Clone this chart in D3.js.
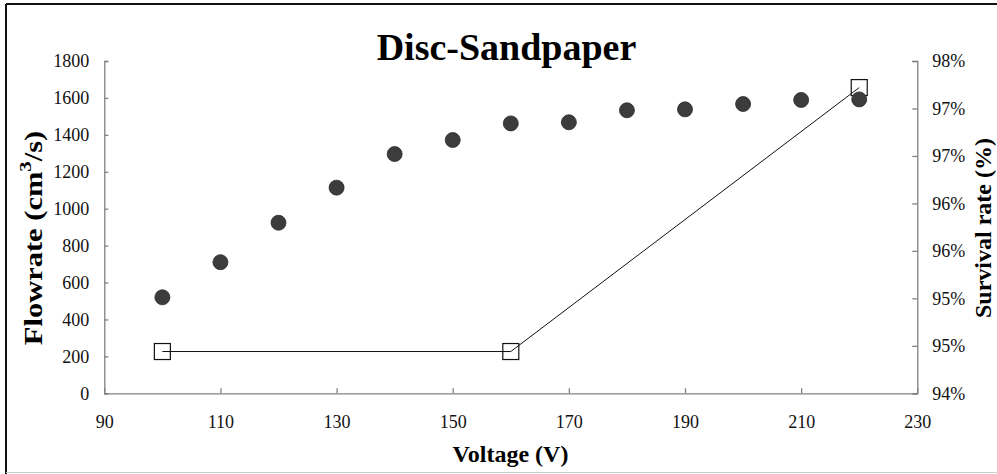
<!DOCTYPE html>
<html><head><meta charset="utf-8">
<script src="https://cdn.jsdelivr.net/npm/d3@7"></script>
<style>body{margin:0;background:#fff;}svg{display:block;} text{font-family:'Liberation Serif','Times New Roman',serif;}</style>
</head><body>
<svg id="c" width="997" height="474"></svg>
<script>
const voltage = [100,110,120,130,140,150,160,170,180,190,200,210,220];
const flowrate = [520,710,924,1114,1296,1372,1462,1468,1533,1538,1567,1589,1592];
const survVoltage = [100,160,220];
const survival = [94.44,94.44,97.22];
const xTicks = [90,110,130,150,170,190,210,230];
const yLeftTicks = [0,200,400,600,800,1000,1200,1400,1600,1800];
const yRightTicks = [94,94.5,95,95.5,96,96.5,97,97.5];
const title = "Disc-Sandpaper";

const svg = d3.select("#c");
const F = "'Liberation Serif','Times New Roman',serif";
const L = 104.3, R = 917.3, T = 61, B = 393.3;
const x = d3.scaleLinear().domain([90,230]).range([L,R]);
const yL = d3.scaleLinear().domain([0,1800]).range([B,T]);
const yR = d3.scaleLinear().domain([94,97.5]).range([B,T]);

// frame
svg.append("line").attr("x1",6).attr("y1",4).attr("x2",997).attr("y2",4).attr("stroke","#111").attr("stroke-width",2);
svg.append("line").attr("x1",6).attr("y1",4).attr("x2",6).attr("y2",474).attr("stroke","#111").attr("stroke-width",2);
svg.append("line").attr("x1",6).attr("y1",472.5).attr("x2",997).attr("y2",472.5).attr("stroke","#ccc").attr("stroke-width",1);

const ax = "#808080";
function styleAxis(g){
  g.attr("font-family",F).attr("font-size",18);
  g.selectAll("path").attr("stroke",ax).attr("stroke-width",1.3);
  g.selectAll("line").attr("stroke",ax).attr("stroke-width",1.3);
  g.selectAll("text").style("font-family",F).attr("font-size",18).attr("fill","#111");
}
const gx = svg.append("g").attr("transform",`translate(0,${B})`)
  .call(d3.axisBottom(x).tickValues(xTicks).tickSizeInner(-5).tickSizeOuter(0).tickPadding(22).tickFormat(d3.format("d")));
styleAxis(gx);
const gl = svg.append("g").attr("transform",`translate(${L},0)`)
  .call(d3.axisLeft(yL).tickValues(yLeftTicks).tickSizeInner(-4).tickSizeOuter(-4).tickPadding(15).tickFormat(d3.format("d")));
styleAxis(gl);
const gr = svg.append("g").attr("transform",`translate(${R},0)`)
  .call(d3.axisRight(yR).tickValues(yRightTicks).tickSizeInner(-5).tickSizeOuter(-5).tickPadding(15).tickFormat(d=>Math.round(d)+"%"));
styleAxis(gr);

// survival series
const pts = survVoltage.map((v,i)=>({v, s:survival[i]}));
svg.append("g").selectAll("rect").data(pts).join("rect")
  .attr("x",d=>x(d.v)-8).attr("y",d=>yR(d.s)-8).attr("width",16).attr("height",16)
  .attr("fill","none").attr("stroke","#111").attr("stroke-width",1.2);
svg.append("path").datum(pts)
  .attr("d",d3.line().x(d=>x(d.v)).y(d=>yR(d.s)))
  .attr("fill","none").attr("stroke","#111").attr("stroke-width",1);

// flowrate series
svg.append("g").selectAll("circle").data(voltage.map((v,i)=>({v,f:flowrate[i]}))).join("circle")
  .attr("cx",d=>x(d.v)).attr("cy",d=>yL(d.f)).attr("r",7.5)
  .attr("fill","#3c3c3c").attr("stroke","#2a2a2a").attr("stroke-width",0.8);

// titles
svg.append("text").attr("x",506.5).attr("y",60).attr("text-anchor","middle")
  .style("font-family",F).attr("font-weight","bold").attr("font-size",38).attr("fill","#000").text(title);
svg.append("text").attr("x",510.5).attr("y",462).attr("text-anchor","middle")
  .style("font-family",F).attr("font-weight","bold").attr("font-size",24).attr("fill","#000").text("Voltage (V)");
const lt = svg.append("text").attr("transform","translate(42,238) rotate(-90) scale(1.22,1)").attr("text-anchor","middle")
  .style("font-family",F).attr("font-weight","bold").attr("font-size",25).attr("fill","#000");
lt.append("tspan").text("Flowrate (cm");
lt.append("tspan").attr("font-size",17).attr("dy",-11).text("3");
lt.append("tspan").attr("dy",11).text("/s)");
svg.append("text").attr("transform","translate(991,228) rotate(-90)").attr("text-anchor","middle")
  .style("font-family",F).attr("font-weight","bold").attr("font-size",24).attr("fill","#000").text("Survival rate (%)");
</script>
</body></html>
